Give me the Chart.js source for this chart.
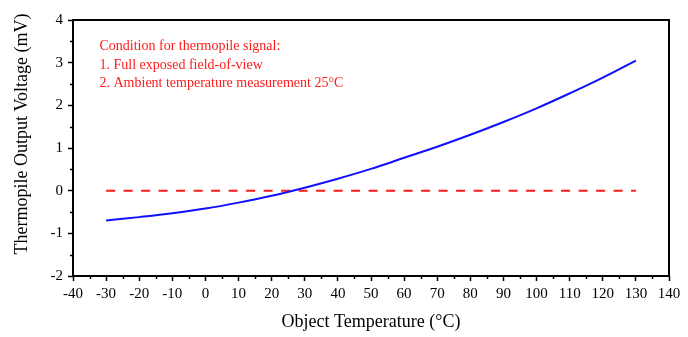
<!DOCTYPE html>
<html>
<head>
<meta charset="utf-8">
<title>Thermopile Output Voltage</title>
<script src="https://cdn.jsdelivr.net/npm/chart.js@4/dist/chart.umd.min.js"></script>
<style>
  html, body { margin: 0; padding: 0; background: #fff; }
  #wrap { width: 688px; height: 337px; position: relative; }
</style>
</head>
<body>
<div id="wrap"><canvas id="voltageChart"></canvas></div>
<script>
// Object temperature (°C) and thermopile output (mV)
const temperatures = [-30, -20, -10, 0, 10, 20, 30, 40, 50, 60, 70, 80, 90, 100, 110, 120, 130];
const voltages = [-0.70, -0.62, -0.53, -0.42, -0.28, -0.12, 0.07, 0.28, 0.51, 0.77, 1.03, 1.31, 1.61, 1.93, 2.28, 2.65, 3.05];

// zero reference line
const zeroLineX = [-30, 130];
const zeroLineY = [0, 0];

// axis ranges
const xTicks = { min: -40, max: 140, step: 10, minorStep: 5 };
const yTicks = { min: -2, max: 4, step: 1, minorStep: 0.5 };

const xTitle = 'Object Temperature (°C)';
const yTitle = 'Thermopile Output Voltage (mV)';

// note in the upper left corner (anchored in data units)
const noteLines = [
    'Condition for thermopile signal:',
    '1. Full exposed field-of-view',
    '2. Ambient temperature measurement 25°C'
];
const noteAnchor = { x: -32, y: 3.38 };

const SERIF = '"Liberation Serif", "Times New Roman", serif';

const framePlugin = {
    id: 'frameAndMinorTicks',
    afterDraw(chart) {
        const ctx = chart.ctx;
        const area = chart.chartArea;
        const xs = chart.scales.x;
        const ys = chart.scales.y;

        ctx.save();
        ctx.strokeStyle = '#000';
        ctx.lineWidth = 1.5;
        ctx.beginPath();
        // minor ticks on the y axis
        for (let v = yTicks.min; v <= yTicks.max; v += yTicks.minorStep) {
            if (Math.abs(v % yTicks.step) < 1e-6) continue;
            const py = Math.round(ys.getPixelForValue(v)) + 0.5;
            ctx.moveTo(area.left, py);
            ctx.lineTo(area.left - 3, py);
        }
        // minor ticks on the x axis
        for (let v = xTicks.min; v <= xTicks.max; v += xTicks.minorStep) {
            if (Math.abs(v % xTicks.step) < 1e-6) continue;
            const px = Math.round(xs.getPixelForValue(v)) + 0.5;
            ctx.moveTo(px, area.bottom);
            ctx.lineTo(px, area.bottom + 3);
        }
        ctx.stroke();

        // box around the plot
        ctx.lineWidth = 2;
        ctx.strokeRect(area.left, area.top, area.right - area.left, area.bottom - area.top);

        // y axis title, sitting a little above the middle of the axis
        ctx.fillStyle = '#000';
        ctx.font = '18px ' + SERIF;
        ctx.textAlign = 'center';
        ctx.textBaseline = 'middle';
        ctx.translate(22, (area.top + area.bottom) / 2 - 14);
        ctx.rotate(-Math.PI / 2);
        ctx.fillText(yTitle, 0, 0);
        ctx.setTransform(1, 0, 0, 1, 0, 0);

        // red note text
        ctx.fillStyle = '#ff1a1a';
        ctx.font = '14px ' + SERIF;
        ctx.textAlign = 'left';
        ctx.textBaseline = 'middle';
        const nx = xs.getPixelForValue(noteAnchor.x);
        const ny = ys.getPixelForValue(noteAnchor.y);
        noteLines.forEach((line, i) => {
            ctx.fillText(line, nx, ny + i * 18.6);
        });
        ctx.restore();
    }
};

const ctx = document.getElementById('voltageChart').getContext('2d');

new Chart(ctx, {
    type: 'line',
    data: {
        datasets: [
            {
                label: 'Output voltage',
                data: temperatures.map((t, i) => ({ x: t, y: voltages[i] })),
                borderColor: '#1010ff',
                borderWidth: 2,
                pointRadius: 0,
                tension: 0.4,
                fill: false
            },
            {
                label: 'Zero',
                data: zeroLineX.map((t, i) => ({ x: t, y: zeroLineY[i] })),
                borderColor: '#ff1a1a',
                borderWidth: 2,
                borderDash: [9, 8.5],
                pointRadius: 0,
                fill: false
            }
        ]
    },
    options: {
        responsive: true,
        maintainAspectRatio: false,
        animation: false,
        layout: { padding: { top: 20, right: 19, left: 0, bottom: 0 } },
        plugins: {
            legend: { display: false },
            tooltip: { enabled: false }
        },
        scales: {
            x: {
                type: 'linear',
                min: xTicks.min,
                max: xTicks.max,
                afterFit(scale) { scale.height = 61; },
                border: { display: false },
                grid: {
                    drawOnChartArea: false,
                    drawTicks: true,
                    tickLength: 5,
                    tickColor: '#000',
                    tickWidth: 1.5
                },
                ticks: {
                    stepSize: xTicks.step,
                    maxRotation: 0,
                    autoSkip: false,
                    padding: 4,
                    color: '#000',
                    font: { family: SERIF, size: 15 }
                },
                title: {
                    display: true,
                    text: xTitle,
                    color: '#000',
                    font: { family: SERIF, size: 18 },
                    padding: { top: 0, bottom: 4 }
                }
            },
            y: {
                min: yTicks.min,
                max: yTicks.max,
                afterFit(scale) { scale.width = 73; },
                border: { display: false },
                grid: {
                    drawOnChartArea: false,
                    drawTicks: true,
                    tickLength: 5,
                    tickColor: '#000',
                    tickWidth: 1.5
                },
                ticks: {
                    stepSize: yTicks.step,
                    padding: 5,
                    color: '#000',
                    font: { family: SERIF, size: 15 }
                }
            }
        }
    },
    plugins: [framePlugin]
});
</script>
</body>
</html>
